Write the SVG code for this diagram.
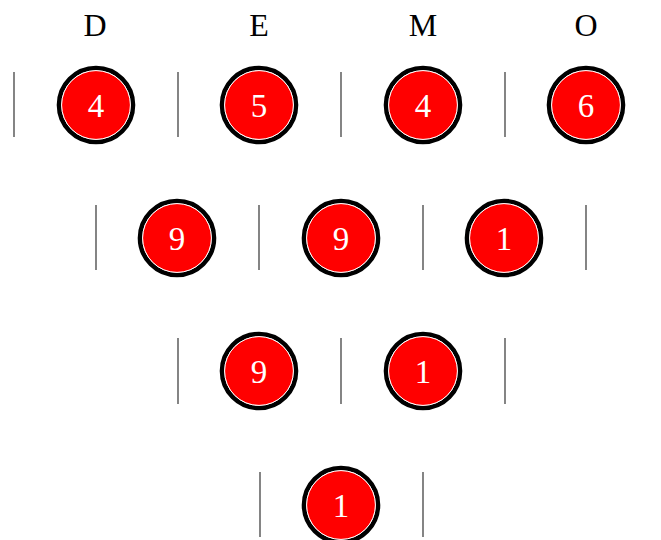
<svg xmlns="http://www.w3.org/2000/svg" width="661" height="540" viewBox="0 0 661 540">
<style>
.lbl{font-family:"Liberation Serif","Times New Roman",serif;font-size:32px;fill:#000;text-anchor:middle}
.num{font-family:"Liberation Serif","Times New Roman",serif;font-size:33px;fill:#fff;text-anchor:middle}
.ring{fill:none;stroke:#000;stroke-width:4.6}
.core{fill:#f00;stroke:#fff;stroke-width:1}
.sep{stroke:#333;stroke-width:1.2}
</style>
<defs>
<g id="ball"><circle class="ring" r="37"/><circle class="core" r="34.4"/></g>
</defs>
<g id="labels">
<text class="lbl" x="95" y="36">D</text>
<text class="lbl" x="259" y="36">E</text>
<text class="lbl" x="423" y="36">M</text>
<text class="lbl" x="586" y="36">O</text>
</g>
<g id="separators">
<line class="sep" x1="14" y1="72" x2="14" y2="137"/>
<line class="sep" x1="178" y1="72" x2="178" y2="137"/>
<line class="sep" x1="341" y1="72" x2="341" y2="137"/>
<line class="sep" x1="505" y1="72" x2="505" y2="137"/>
<line class="sep" x1="96" y1="205" x2="96" y2="270"/>
<line class="sep" x1="259" y1="205" x2="259" y2="270"/>
<line class="sep" x1="423" y1="205" x2="423" y2="270"/>
<line class="sep" x1="586" y1="205" x2="586" y2="270"/>
<line class="sep" x1="178" y1="338" x2="178" y2="404"/>
<line class="sep" x1="341" y1="338" x2="341" y2="404"/>
<line class="sep" x1="505" y1="338" x2="505" y2="404"/>
<line class="sep" x1="260" y1="472" x2="260" y2="537"/>
<line class="sep" x1="423" y1="472" x2="423" y2="537"/>
</g>
<g id="n1"><use href="#ball" x="96" y="105"/><text class="num" x="96" y="117">4</text></g>
<g id="n2"><use href="#ball" x="259" y="105"/><text class="num" x="259" y="117">5</text></g>
<g id="n3"><use href="#ball" x="423" y="105"/><text class="num" x="423" y="117">4</text></g>
<g id="n4"><use href="#ball" x="586" y="105"/><text class="num" x="586" y="117">6</text></g>
<g id="n5"><use href="#ball" x="177" y="238"/><text class="num" x="177" y="250">9</text></g>
<g id="n6"><use href="#ball" x="341" y="238"/><text class="num" x="341" y="250">9</text></g>
<g id="n7"><use href="#ball" x="504" y="238"/><text class="num" x="504" y="250">1</text></g>
<g id="n8"><use href="#ball" x="259" y="371"/><text class="num" x="259" y="383">9</text></g>
<g id="n9"><use href="#ball" x="423" y="371"/><text class="num" x="423" y="383">1</text></g>
<g id="n10"><use href="#ball" x="341" y="505"/><text class="num" x="341" y="517">1</text></g>
</svg>
